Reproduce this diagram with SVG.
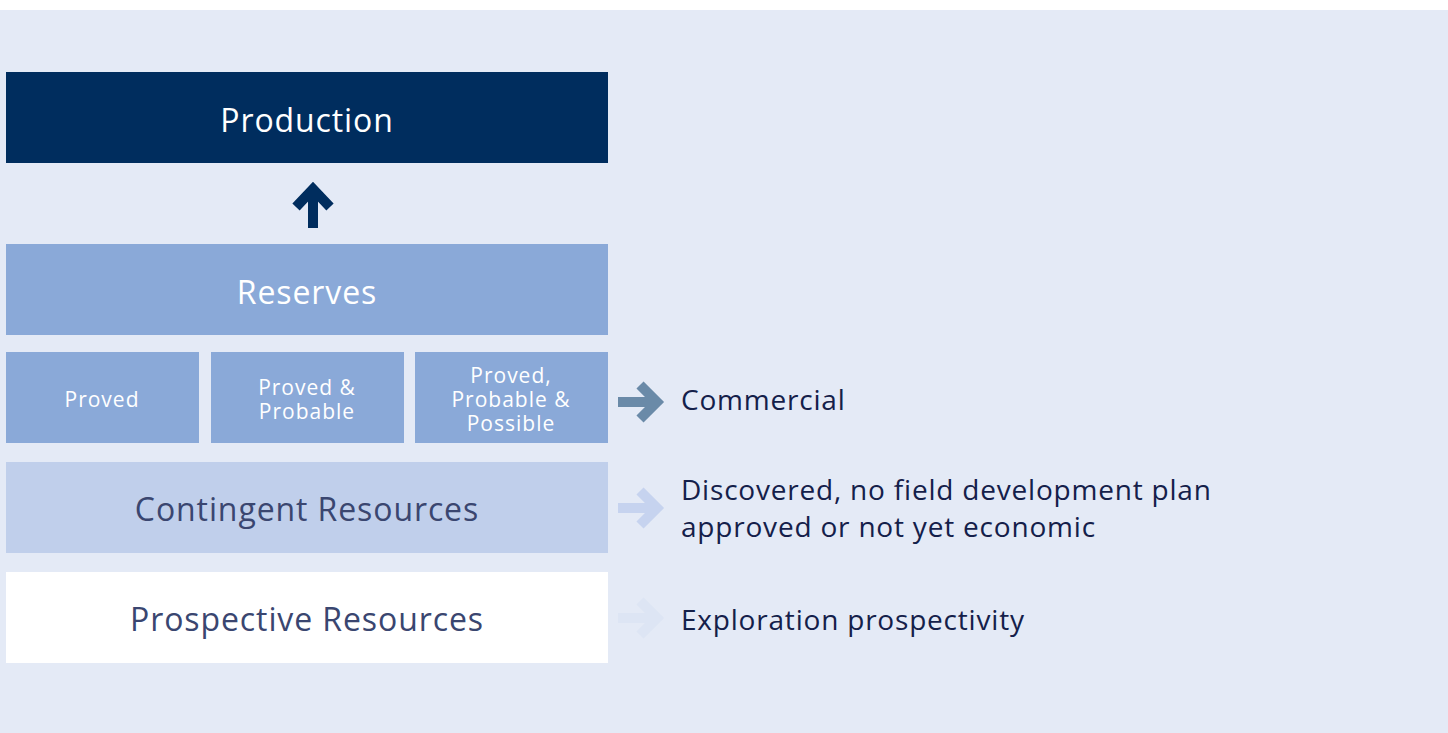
<svg xmlns="http://www.w3.org/2000/svg" width="1448" height="733" viewBox="0 0 1448 733">
<defs>
<style>
.t{font-family:"Open Sans","Liberation Sans",sans-serif;text-anchor:middle}
.big{font-size:32px;letter-spacing:0.9px}
.sm{font-size:21px;letter-spacing:1px;fill:#ffffff}
.side{font-family:"Open Sans","Liberation Sans",sans-serif;font-size:28px;letter-spacing:0.8px;fill:#14204a}
.arr{fill:none;stroke-width:10;stroke-linejoin:miter;stroke-linecap:butt}
</style>
</defs>
<rect x="0" y="0" width="1448" height="733" fill="#ffffff"/>
<rect x="0" y="10" width="1448" height="723" fill="#e4eaf6"/>
<g id="production">
<rect x="6" y="72" width="602" height="91" fill="#002d5e"/>
<text class="t big" x="307" y="132" fill="#ffffff">Production</text>
</g>
<g id="reserves">
<rect x="6" y="244" width="602" height="91" fill="#8aa9d8"/>
<text class="t big" x="307" y="304" fill="#ffffff">Reserves</text>
</g>
<g id="proved">
<rect x="6" y="352" width="193" height="91" fill="#8aa9d8"/>
<text class="t sm" x="102" y="407">Proved</text>
</g>
<g id="proved-probable">
<rect x="211" y="352" width="193" height="91" fill="#8aa9d8"/>
<text class="t sm" x="307" y="395">Proved &amp;</text>
<text class="t sm" x="307" y="419">Probable</text>
</g>
<g id="proved-probable-possible">
<rect x="415" y="352" width="193" height="91" fill="#8aa9d8"/>
<text class="t sm" x="511" y="383">Proved,</text>
<text class="t sm" x="511" y="407">Probable &amp;</text>
<text class="t sm" x="511" y="431">Possible</text>
</g>
<g id="contingent">
<rect x="6" y="462" width="602" height="91" fill="#c0cfeb"/>
<text class="t big" x="307" y="521" fill="#3a4670">Contingent Resources</text>
</g>
<g id="prospective">
<rect x="6" y="572" width="602" height="91" fill="#ffffff"/>
<text class="t big" x="307" y="631" fill="#3a4670">Prospective Resources</text>
</g>
<g id="labels">
<text class="side" x="681" y="410">Commercial</text>
<text class="side" x="681" y="500">Discovered, no field development plan</text>
<text class="side" x="681" y="537">approved or not yet economic</text>
<text class="side" x="681" y="630">Exploration prospectivity</text>
</g>
<g id="connectors">
<path d="M313 228 V194 M296 207 L313 189 L330 207" class="arr" stroke="#002d5e" stroke-width="9"/>
<path d="M618 402 H656 M640 385 L657 402 L640 419" class="arr" stroke="#6a8aa8"/>
<path d="M618 508 H656 M640 491 L657 508 L640 525" class="arr" stroke="#c6d3ef"/>
<path d="M618 618 H656 M640 601 L657 618 L640 635" class="arr" stroke="#dde5f4"/>
</g>
</svg>
